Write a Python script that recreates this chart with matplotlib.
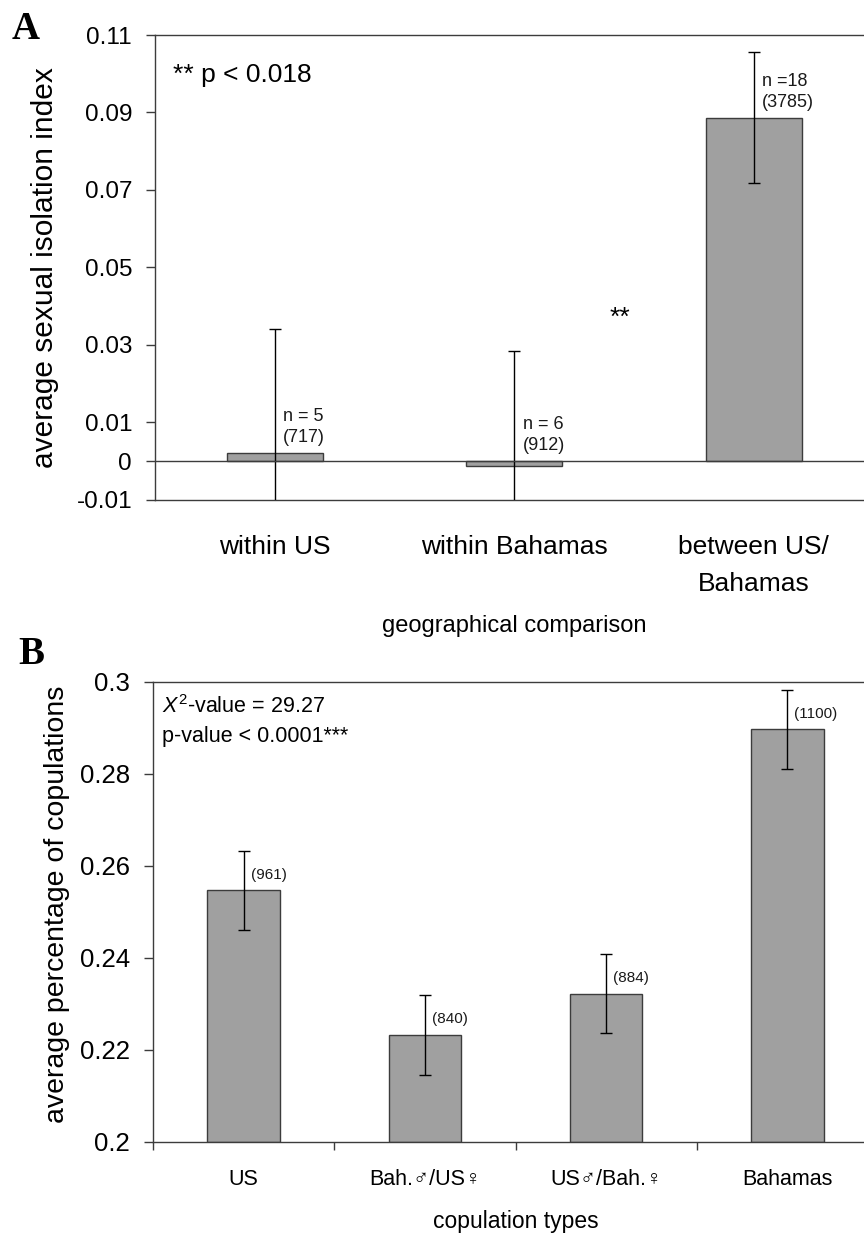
import numpy as np
import matplotlib
matplotlib.use("Agg")
import matplotlib.pyplot as plt

plt.rcParams['font.family'] = ['Liberation Sans', 'DejaVu Sans']
plt.rcParams['mathtext.fontset'] = 'custom'
plt.rcParams['mathtext.rm'] = 'Liberation Sans'
plt.rcParams['mathtext.it'] = 'Liberation Sans:italic'

# panel A: sexual isolation index by geography
geo_labels = ['within US', 'within Bahamas', 'between US/\nBahamas']
geo_mean = [0.0022, -0.0012, 0.0887]
geo_err = [0.032, 0.0297, 0.0169]
geo_n = ['n = 5', 'n = 6', 'n =18']
geo_pairs = [717, 912, 3785]
geo_ticks = [-0.01, 0, 0.01, 0.03, 0.05, 0.07, 0.09, 0.11]

# panel B: copulation types
cop_labels = ['US', 'Bah.\u2642/US\u2640', 'US\u2642/Bah.\u2640', 'Bahamas']
cop_mean = [0.2547, 0.2233, 0.2322, 0.2897]
cop_err = [0.0086, 0.0087, 0.0086, 0.0086]
cop_counts = [961, 840, 884, 1100]
cop_ticks = [0.2, 0.22, 0.24, 0.26, 0.28, 0.3]

bar_face = '#a0a0a0'
dark = '#3c3c3c'
W, H = 864, 1234

fig = plt.figure(figsize=(W / 100, H / 100), dpi=100)
axA = fig.add_axes([155 / W, 1 - 500 / H, 718.5 / W, 465 / H])
axB = fig.add_axes([153 / W, 1 - 1141.7 / H, 725 / W, 460 / H])

for ax in (axA, axB):
    for s in ax.spines.values():
        s.set_color(dark)
        s.set_linewidth(1.0)
    ax.tick_params(axis='y', direction='out', length=6.5, width=1.0, color=dark,
                   labelsize=17.5, pad=10)

# ---- A ----
xa = np.arange(len(geo_mean))
axA.bar(xa, geo_mean, width=0.4, color=bar_face, edgecolor=dark, linewidth=1.0, zorder=2)
axA.errorbar(xa, geo_mean, yerr=geo_err, fmt='none', ecolor='black', elinewidth=1.0,
             capsize=4.5, capthick=1.0, zorder=3)
axA.axhline(0, color=dark, linewidth=1.0, zorder=4)
axA.set_xlim(-0.5, 2.5)
axA.set_ylim(-0.01, 0.11)
axA.set_yticks(geo_ticks)
axA.set_yticklabels(['-0.01', '0', '0.01', '0.03', '0.05', '0.07', '0.09', '0.11'])
axA.set_xticks(xa)
axA.set_xticklabels(geo_labels, fontsize=19, linespacing=1.7)
axA.tick_params(axis='x', length=0, pad=25)
axA.set_xlabel('geographical comparison', fontsize=17, labelpad=14)
axA.set_ylabel('average sexual isolation index', fontsize=21.5, va='center')
axA.yaxis.set_label_coords(-0.153, 0.5)

for i, (m, n, p) in enumerate(zip(geo_mean, geo_n, geo_pairs)):
    axA.annotate(f'{n}\n({p})', xy=(i, max(m, 0)), xytext=(6, 5),
                 textcoords='offset points', ha='left', va='bottom',
                 fontsize=13, linespacing=1.3, color='#1a1a1a')

axA.text(0.025, 0.914, '** p < 0.018', transform=axA.transAxes, fontsize=19,
         va='center', ha='left')
axA.text(1.44, 0.037, '**', fontsize=19, ha='center', va='center')

# ---- B ----
xb = np.arange(len(cop_mean))
axB.bar(xb, np.array(cop_mean) - 0.2, bottom=0.2, width=0.4, color=bar_face,
        edgecolor=dark, linewidth=1.0, zorder=2)
axB.errorbar(xb, cop_mean, yerr=cop_err, fmt='none', ecolor='black', elinewidth=1.0,
             capsize=4.5, capthick=1.0, zorder=3)
axB.set_xlim(-0.5, 3.5)
axB.set_ylim(0.2, 0.3)
axB.set_yticks(cop_ticks)
axB.set_yticklabels(['0.2', '0.22', '0.24', '0.26', '0.28', '0.3'])
axB.tick_params(axis='y', labelsize=18.5)
axB.set_xticks(xb)
axB.set_xticklabels(cop_labels, fontsize=15.5)
axB.tick_params(axis='x', which='major', length=0, pad=20)
axB.set_xticks(np.arange(-0.5, 4, 1.0), minor=True)
axB.tick_params(axis='x', which='minor', direction='out', length=6, width=1.0, color=dark)
axB.set_xlabel('copulation types', fontsize=16.5, labelpad=14)
axB.set_ylabel('average percentage of copulations', fontsize=20.5, va='center')
axB.yaxis.set_label_coords(-0.132, 0.515)

for i, (m, c) in enumerate(zip(cop_mean, cop_counts)):
    axB.annotate(f'({c})', xy=(i, m), xytext=(5, 6), textcoords='offset points',
                 ha='left', va='bottom', fontsize=11, color='#1a1a1a')

axB.text(0.0124, 0.9457, r'$X^2$-value = 29.27', transform=axB.transAxes,
         fontsize=15.5, va='center', ha='left')
axB.text(0.0124, 0.880, 'p-value < 0.0001***', transform=axB.transAxes,
         fontsize=15.5, va='center', ha='left')

# panel letters
fig.text(12 / W, 1 - 39 / H, 'A', fontsize=28, fontweight='bold',
         family='Liberation Serif', va='baseline', ha='left')
fig.text(18 / W, 1 - 664 / H, 'B', fontsize=28, fontweight='bold',
         family='Liberation Serif', va='baseline', ha='left')

fig.savefig('out.png', dpi=100)
